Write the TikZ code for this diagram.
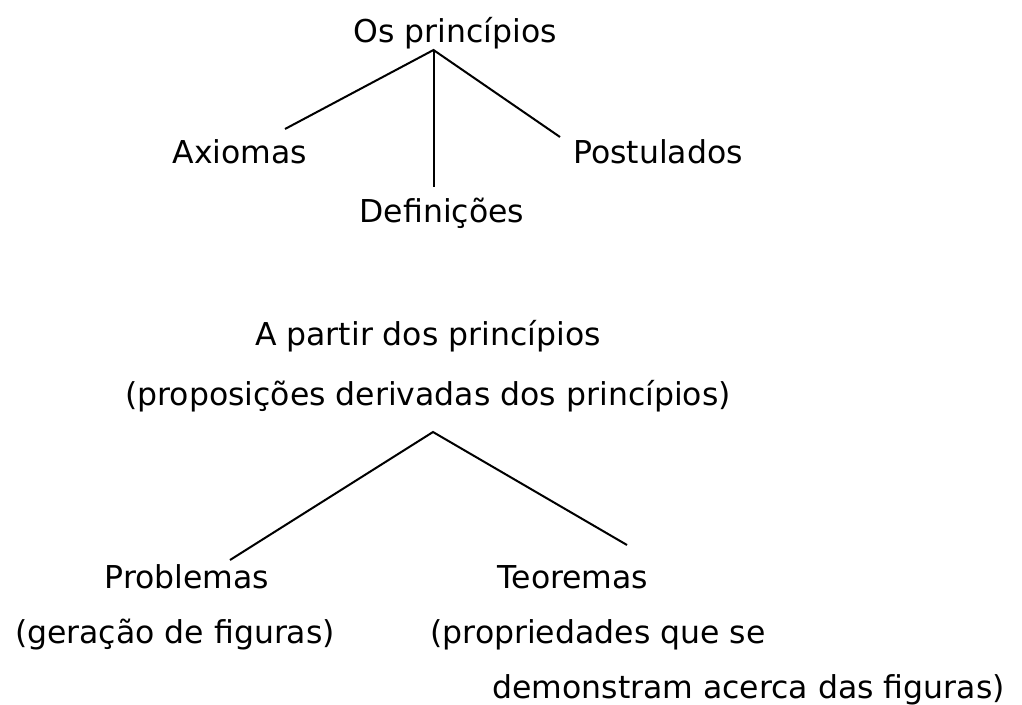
\documentclass[tikz,border=0pt]{standalone}
\usepackage{fontspec}
\setmainfont{DejaVu Sans}
\tikzset{treefig/.style={x=1pt,y=-1pt,font=\fontsize{31.5}{36}\selectfont},
  lbl/.style={anchor=base,inner sep=0pt},
  branch/.style={line width=2pt}}

\begin{document}
\begin{tikzpicture}[treefig]
    \useasboundingbox (0,0) rectangle (1022,704);
    % first tree
    \node[lbl] (princ) at (455,42) {Os princípios};
    \node[lbl] (axiom) at (240,163) {Axiomas};
    \node[lbl] (postul) at (658,163) {Postulados};
    \node[lbl] (defin) at (442,222) {Definições};
    \coordinate (top) at (433.5,50);
    \coordinate (axend) at (285,129);
    \coordinate (deend) at (433.5,187);
    \coordinate (poend) at (560,137);
    \draw[branch] (axend) -- (top) -- (poend);
    \draw[branch] (top) -- (deend);
    % second tree
    \node[lbl] (apartir) at (428,345) {A partir dos princípios};
    \node[lbl] (propos) at (428,405) {(proposições derivadas dos princípios)};
    \node[lbl] (probl) at (187,588) {Problemas};
    \node[lbl] (gerac) at (175,643) {(geração de figuras)};
    \node[lbl] (teor) at (573,588) {Teoremas};
    \node[lbl] (propr) at (598,643) {(propriedades que se};
    \node[lbl] (demon) at (748.5,698) {demonstram acerca das figuras)};
    \coordinate (apex) at (433,432);
    \coordinate (prend) at (230,560);
    \coordinate (teend) at (627,545);
    \draw[branch] (prend) -- (apex) -- (teend);
\end{tikzpicture}
\end{document}
